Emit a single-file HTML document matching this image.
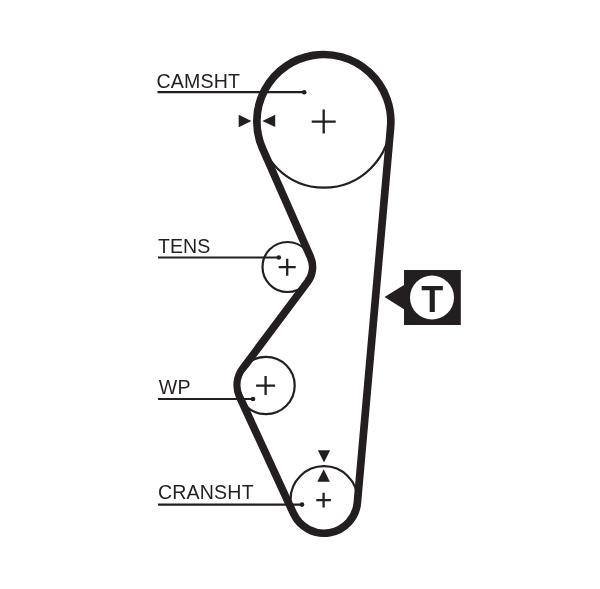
<!DOCTYPE html>
<html><head><meta charset="utf-8"><title>Timing belt</title>
<style>
html,body{margin:0;padding:0;background:#fff;}
body{width:600px;height:589px;overflow:hidden;}
svg{display:block;will-change:transform;}
text{font-family:"Liberation Sans",Arial,Helvetica,sans-serif;fill:#231f20;}
</style></head><body>
<svg width="600" height="589" viewBox="0 0 600 589">
<rect width="600" height="589" fill="#fff"/>
<path d="M390.59 127.41 L357.37 502.65 A33.5 33.5 0 0 1 293.58 513.73 L239.78 397.07 A28.1 28.1 0 0 1 242.80 368.46 L307.52 281.98 A25 25 0 0 0 310.37 256.91 L262.55 148.55 A67 67 0 1 1 390.59 127.41 Z" fill="none" stroke="#231f20" stroke-width="7.7" stroke-linejoin="round"/>
<circle cx="262.63" cy="385.02" r="22.16" fill="#fff"/>
<g fill="none" stroke="#231f20" stroke-width="2.2">
<circle cx="324" cy="121.3" r="66.3"/>
<circle cx="287.5" cy="267" r="25"/>
<circle cx="266.0" cy="385.5" r="28.7"/>
<circle cx="324" cy="499.7" r="33.5"/>
</g>
<path d="M311.7 121.6H335.7M323.7 109.6V133.6" stroke="#231f20" stroke-width="2.3" fill="none"/>
<path d="M278.7 267.2H295.7M287.2 258.7V275.7" stroke="#231f20" stroke-width="2.3" fill="none"/>
<path d="M256.1 385.6H275.1M265.6 376.1V395.1" stroke="#231f20" stroke-width="2.3" fill="none"/>
<path d="M316.3 500.1H330.9M323.6 492.8V507.4" stroke="#231f20" stroke-width="2.3" fill="none"/>
<g stroke="#231f20" stroke-width="2.2" fill="none">
<path d="M157.5 92.2H304"/>
<path d="M158 257.5H278.8"/>
<path d="M158 399H253"/>
<path d="M158 504.6H302"/>
</g>
<g fill="#231f20">
<circle cx="304.2" cy="92.2" r="2.3"/>
<circle cx="278.8" cy="257.5" r="2.3"/>
<circle cx="253" cy="399" r="2.3"/>
<circle cx="302" cy="504.6" r="2.3"/>
<path d="M238.7 114.8V127.2L251.4 121Z"/>
<path d="M275.2 114.7V127.1L262.4 121Z"/>
<path d="M317.9 450.2H330.1L324 462.6Z"/>
<path d="M317.3 481.7H329.9L323.7 469.2Z"/>
<path d="M404 270H460.8V325H404V309.3L384.5 297L404 285Z"/>
</g>
<circle cx="432" cy="297.5" r="22" fill="#fff"/>
<text x="156.6" y="88" font-size="19.6" letter-spacing="0.12">CAMSHT</text>
<text x="158" y="253.3" font-size="19.6">TENS</text>
<text x="158.8" y="394" font-size="19.6" letter-spacing="0.3">WP</text>
<text x="158" y="499.3" font-size="19.6" letter-spacing="0.15">CRANSHT</text>
<text x="432.3" y="312" font-size="36" font-weight="bold" text-anchor="middle">T</text>
</svg>
</body></html>
